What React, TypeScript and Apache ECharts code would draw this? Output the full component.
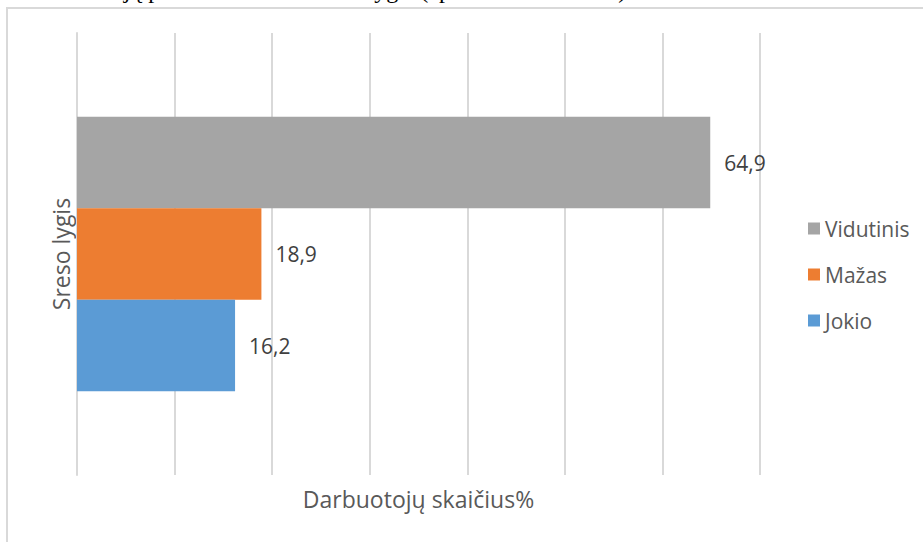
import React, { useEffect, useRef } from "react";
import * as echarts from "echarts";

const seriesNames = ["Vidutinis", "Mažas", "Jokio"];
const seriesValues = [64.9, 18.9, 16.2];
const seriesColors = ["#a5a5a5", "#ed7d31", "#5b9bd5"];
const legendOrder = ["Vidutinis", "Mažas", "Jokio"];
const categories = [""];
const xTitle = "Darbuotojų skaičius%";
const yTitle = "Sreso lygis";
const caption = "Darbuotojų patiriamo darbe streso lygis (apklausos rezultatai)";

const FONT = "'Open Sans', sans-serif";

export default function App() {
  const ref = useRef<HTMLDivElement>(null);
  useEffect(() => {
    if (!ref.current) return;
    const chart = echarts.init(ref.current, undefined, { renderer: "svg" });
    chart.setOption({
      animation: false,
      backgroundColor: "#ffffff",
      textStyle: { fontFamily: FONT },
      grid: { left: 77, right: 163, top: 33, bottom: 67, containLabel: false },
      legend: {
        orient: "vertical",
        left: 803,
        top: 213,
        data: legendOrder,
        icon: "rect",
        itemWidth: 12,
        itemHeight: 12,
        itemGap: 25,
        textStyle: { color: "#595959", fontSize: 21, fontFamily: FONT, padding: [0, 0, 0, 0] },
      },
      xAxis: {
        type: "value",
        min: 0,
        max: 70,
        interval: 10,
        name: xTitle,
        nameLocation: "middle",
        nameGap: 12,
        nameTextStyle: { color: "#595959", fontSize: 23, fontFamily: FONT, verticalAlign: "top" },
        axisLine: { show: false },
        axisTick: { show: false },
        axisLabel: { show: false },
        splitLine: { show: true, lineStyle: { color: "#d9d9d9", width: 2 } },
      },
      yAxis: {
        type: "category",
        data: categories,
        name: yTitle,
        nameLocation: "middle",
        nameRotate: 90,
        nameGap: 5,
        nameTextStyle: { color: "#595959", fontSize: 23, fontFamily: FONT },
        axisLine: { show: true, lineStyle: { color: "#d9d9d9", width: 2 } },
        axisTick: { show: false },
        axisLabel: { show: false },
        splitLine: { show: false },
      },
      graphic: [
        {
          type: "rect",
          silent: true,
          shape: { x: 7, y: 8, width: 1000, height: 1000 },
          style: { fill: "none", stroke: "#d9d9d9", lineWidth: 2 },
          z: -1,
        },
        {
          type: "text",
          silent: true,
          left: 33,
          top: -22,
          style: {
            text: caption,
            font: "24px 'Liberation Serif', serif",
            fill: "#000000",
          },
        },
      ],
      series: seriesNames.map((name, i) => ({
        name,
        type: "bar",
        data: [seriesValues[i]],
        barWidth: 91.5,
        barGap: "0%",
        itemStyle: { color: seriesColors[i] },
        label: {
          show: true,
          position: "right",
          distance: 14,
          color: "#404040",
          fontSize: 21,
          fontFamily: FONT,
          formatter: (p: any) => String(p.value).replace(".", ","),
        },
      })),
    });
    return () => chart.dispose();
  }, []);
  return (
    <div
      ref={ref}
      style={{ position: "absolute", left: 0, top: 0, width: 923, height: 542 }}
    />
  );
}
